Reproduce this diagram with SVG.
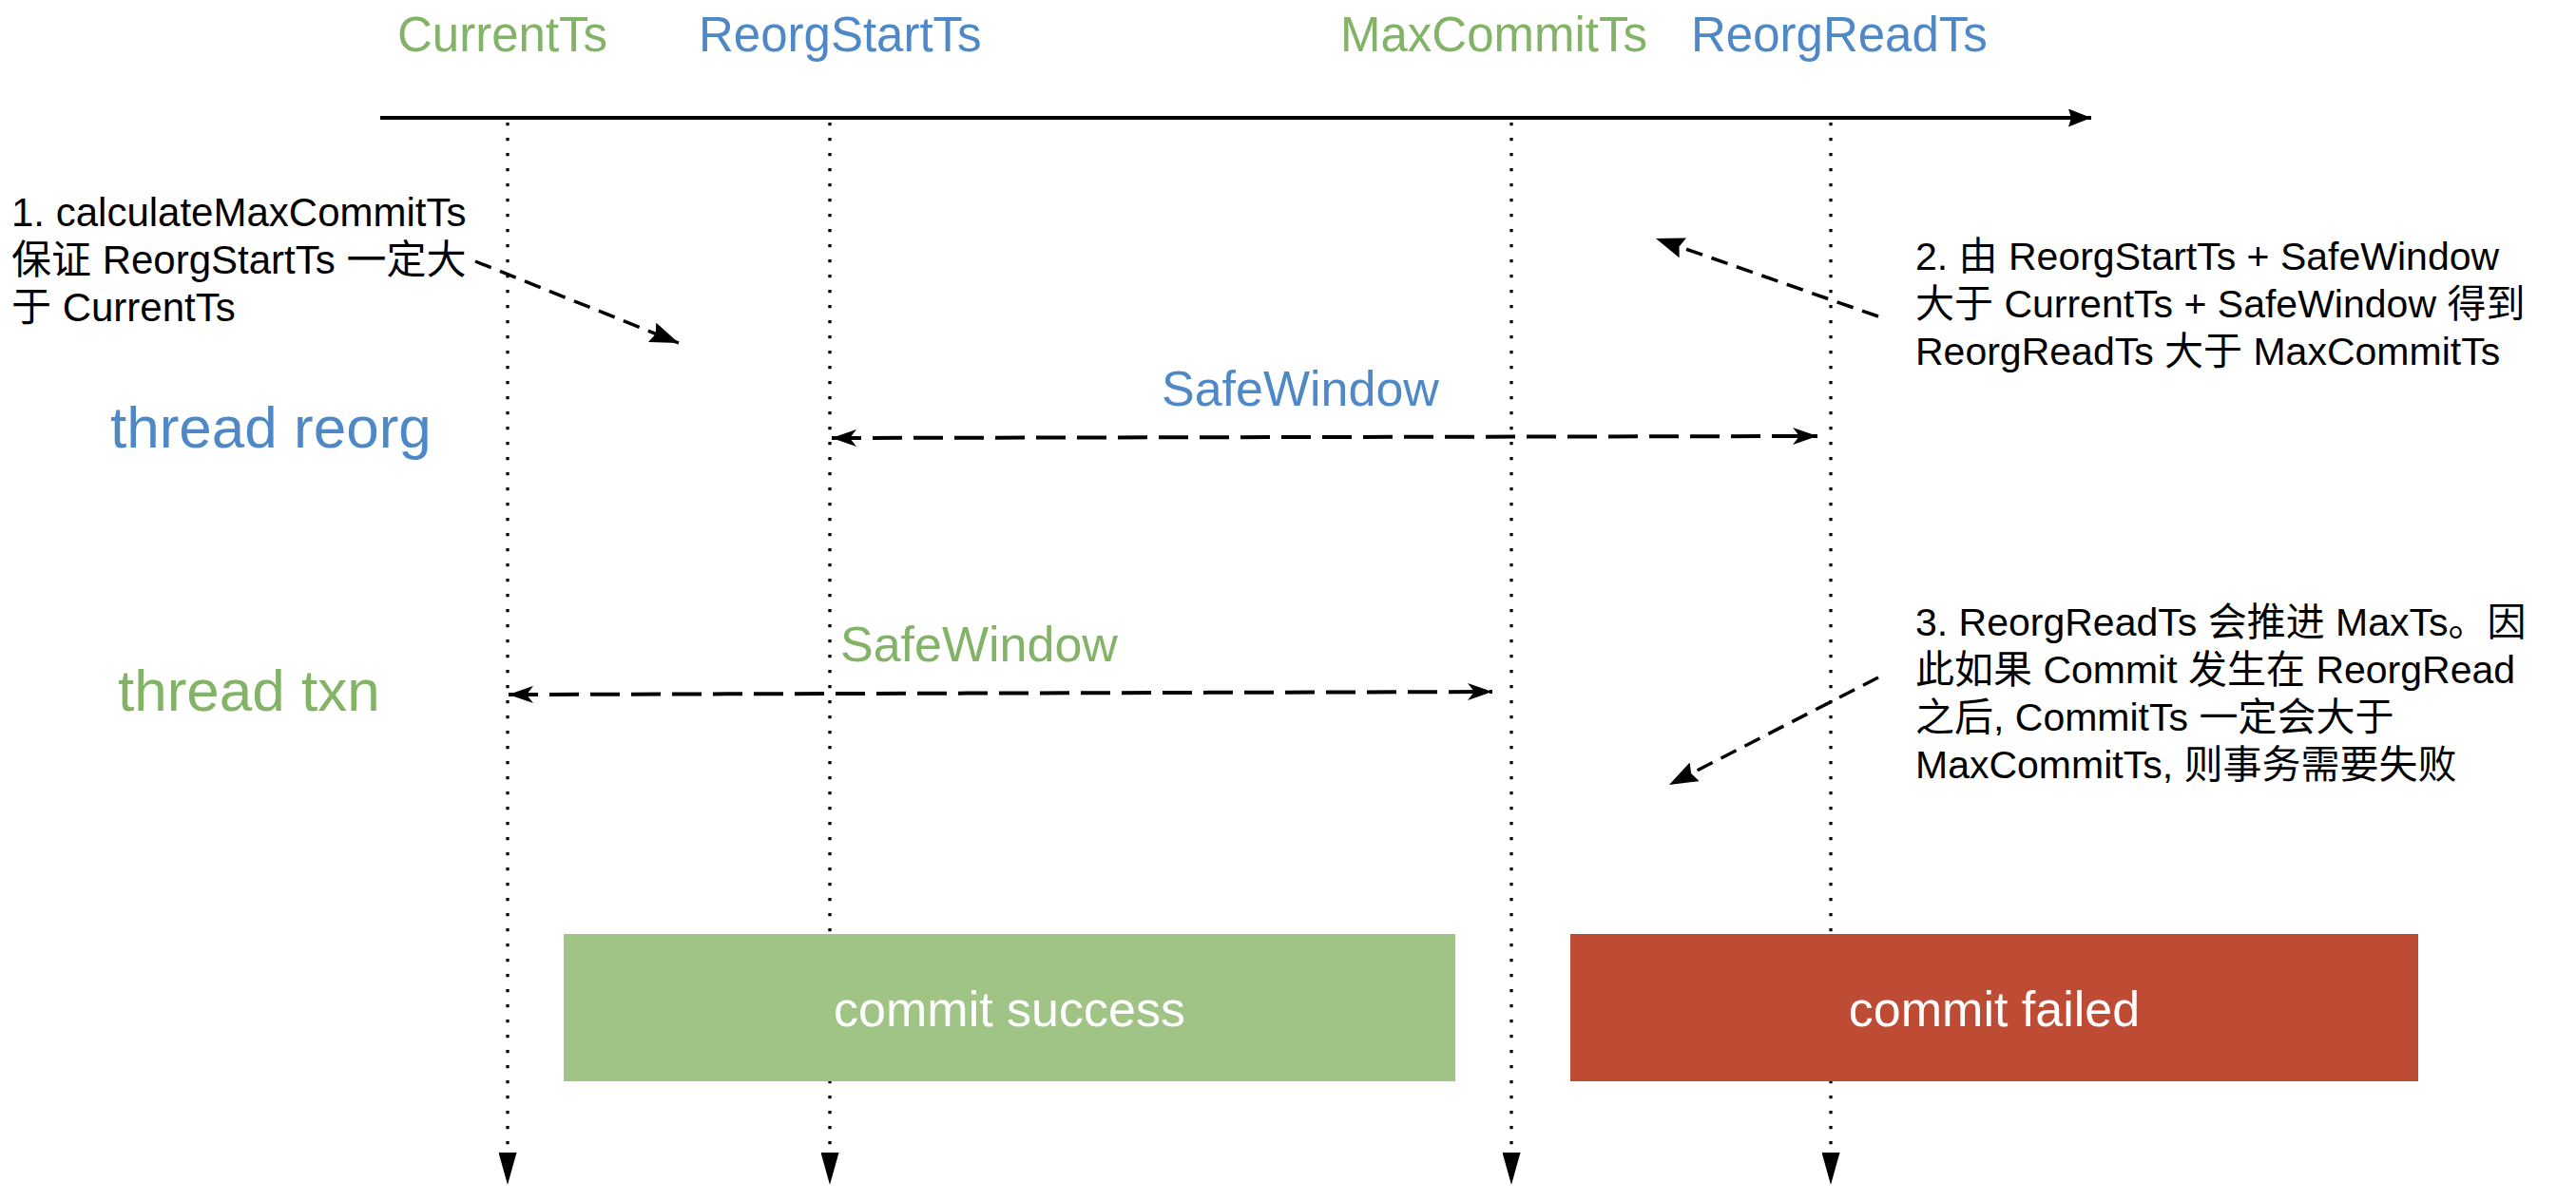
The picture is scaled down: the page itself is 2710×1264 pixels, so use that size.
<svg xmlns="http://www.w3.org/2000/svg" width="2710" height="1264" viewBox="0 0 2710 1264">
<defs>
<style>
text{font-family:"Liberation Sans",Arial,"Noto Sans CJK SC",sans-serif;}
.ts{font-size:51px;}
.g{fill:#82b366;}
.b{fill:#4f88c6;}
.thr{font-size:62px;}
.sw{font-size:52px;}
.note{font-size:41px;fill:#000;}
.n1{font-size:42px;}
.box{font-size:52px;fill:#fff;text-anchor:middle;}
.dot{stroke:#000;stroke-width:3.3;stroke-dasharray:3.3 12.7;fill:none;}
.dash{stroke:#000;stroke-width:4;stroke-dasharray:31 12;fill:none;}
.ann{stroke:#000;stroke-width:3.5;stroke-dasharray:18 10;fill:none;}
</style>
<marker id="cl" viewBox="0 0 26 18" refX="26" refY="9" markerWidth="26" markerHeight="18" markerUnits="userSpaceOnUse" orient="auto-start-reverse">
<path d="M0,0 L26,9 L0,18 L7,9 Z" fill="#000"/>
</marker>
<marker id="an" viewBox="0 0 30 22" refX="30" refY="11" markerWidth="30" markerHeight="22" markerUnits="userSpaceOnUse" orient="auto">
<path d="M0,0 L30,11 L0,22 L4,11 Z" fill="#000"/>
</marker>
<marker id="tri" viewBox="0 0 34 19" refX="0" refY="9.5" markerWidth="34" markerHeight="19" markerUnits="userSpaceOnUse" orient="auto">
<path d="M0,0 L34,9.5 L0,19 Z" fill="#000"/>
</marker>
<marker id="ax" viewBox="0 0 24 19" refX="24" refY="9.5" markerWidth="24" markerHeight="19" markerUnits="userSpaceOnUse" orient="auto">
<path d="M0,0 L24,9.5 L0,19 L3,9.5 Z" fill="#000"/>
</marker>
</defs>
<rect width="2710" height="1264" fill="#fff"/>

<g id="connectors">
<line x1="400" y1="124" x2="2200" y2="124" stroke="#000" stroke-width="4" marker-end="url(#ax)"/>
<line class="dot" x1="534" y1="129" x2="534" y2="1213" marker-end="url(#tri)"/>
<line class="dot" x1="873" y1="129" x2="873" y2="1213" marker-end="url(#tri)"/>
<line class="dot" x1="1590" y1="129" x2="1590" y2="1213" marker-end="url(#tri)"/>
<line class="dot" x1="1926" y1="129" x2="1926" y2="1213" marker-end="url(#tri)"/>
<line class="dash" x1="875" y1="461" x2="1912" y2="459" marker-start="url(#cl)" marker-end="url(#cl)"/>
<line class="dash" x1="535" y1="731" x2="1570" y2="728" marker-start="url(#cl)" marker-end="url(#cl)"/>
<line class="ann" x1="500" y1="275" x2="714" y2="361" marker-end="url(#an)"/>
<line class="ann" x1="1976" y1="333" x2="1742" y2="251" marker-end="url(#an)"/>
<line class="ann" x1="1976" y1="713" x2="1756" y2="826" marker-end="url(#an)"/>
</g>

<g id="label-currentts"><text class="ts g" x="418" y="54">CurrentTs</text></g>
<g id="label-reorgstartts"><text class="ts b" x="735" y="54">ReorgStartTs</text></g>
<g id="label-maxcommitts"><text class="ts g" x="1410" y="54">MaxCommitTs</text></g>
<g id="label-reorgreadts"><text class="ts b" x="1779" y="54">ReorgReadTs</text></g>

<g id="thread-reorg"><text class="thr b" x="116" y="471">thread reorg</text></g>
<g id="thread-txn"><text class="thr g" x="124" y="748">thread txn</text></g>

<g id="safewindow-reorg"><text class="sw b" x="1222" y="427">SafeWindow</text></g>
<g id="safewindow-txn"><text class="sw g" x="884" y="696">SafeWindow</text></g>

<g id="note-1">
<text class="note n1" x="12" y="238">1. calculateMaxCommitTs</text>
<text class="note n1" x="12" y="288">保证 ReorgStartTs 一定大</text>
<text class="note n1" x="12" y="338">于 CurrentTs</text>
</g>
<g id="note-2">
<text class="note" x="2015" y="284">2. 由 ReorgStartTs + SafeWindow</text>
<text class="note" x="2015" y="334">大于 CurrentTs + SafeWindow 得到</text>
<text class="note" x="2015" y="384">ReorgReadTs 大于 MaxCommitTs</text>
</g>
<g id="note-3">
<text class="note" x="2015" y="669">3. ReorgReadTs 会推进 MaxTs。因</text>
<text class="note" x="2015" y="719">此如果 Commit 发生在 ReorgRead</text>
<text class="note" x="2015" y="769">之后, CommitTs 一定会大于</text>
<text class="note" x="2015" y="819">MaxCommitTs, 则事务需要失败</text>
</g>

<g id="commit-success">
<rect x="593" y="983" width="938" height="155" fill="#a0c386"/>
<text class="box" x="1062" y="1080">commit success</text>
</g>
<g id="commit-failed">
<rect x="1652" y="983" width="892" height="155" fill="#be4b34"/>
<text class="box" x="2098" y="1080">commit failed</text>
</g>
</svg>
